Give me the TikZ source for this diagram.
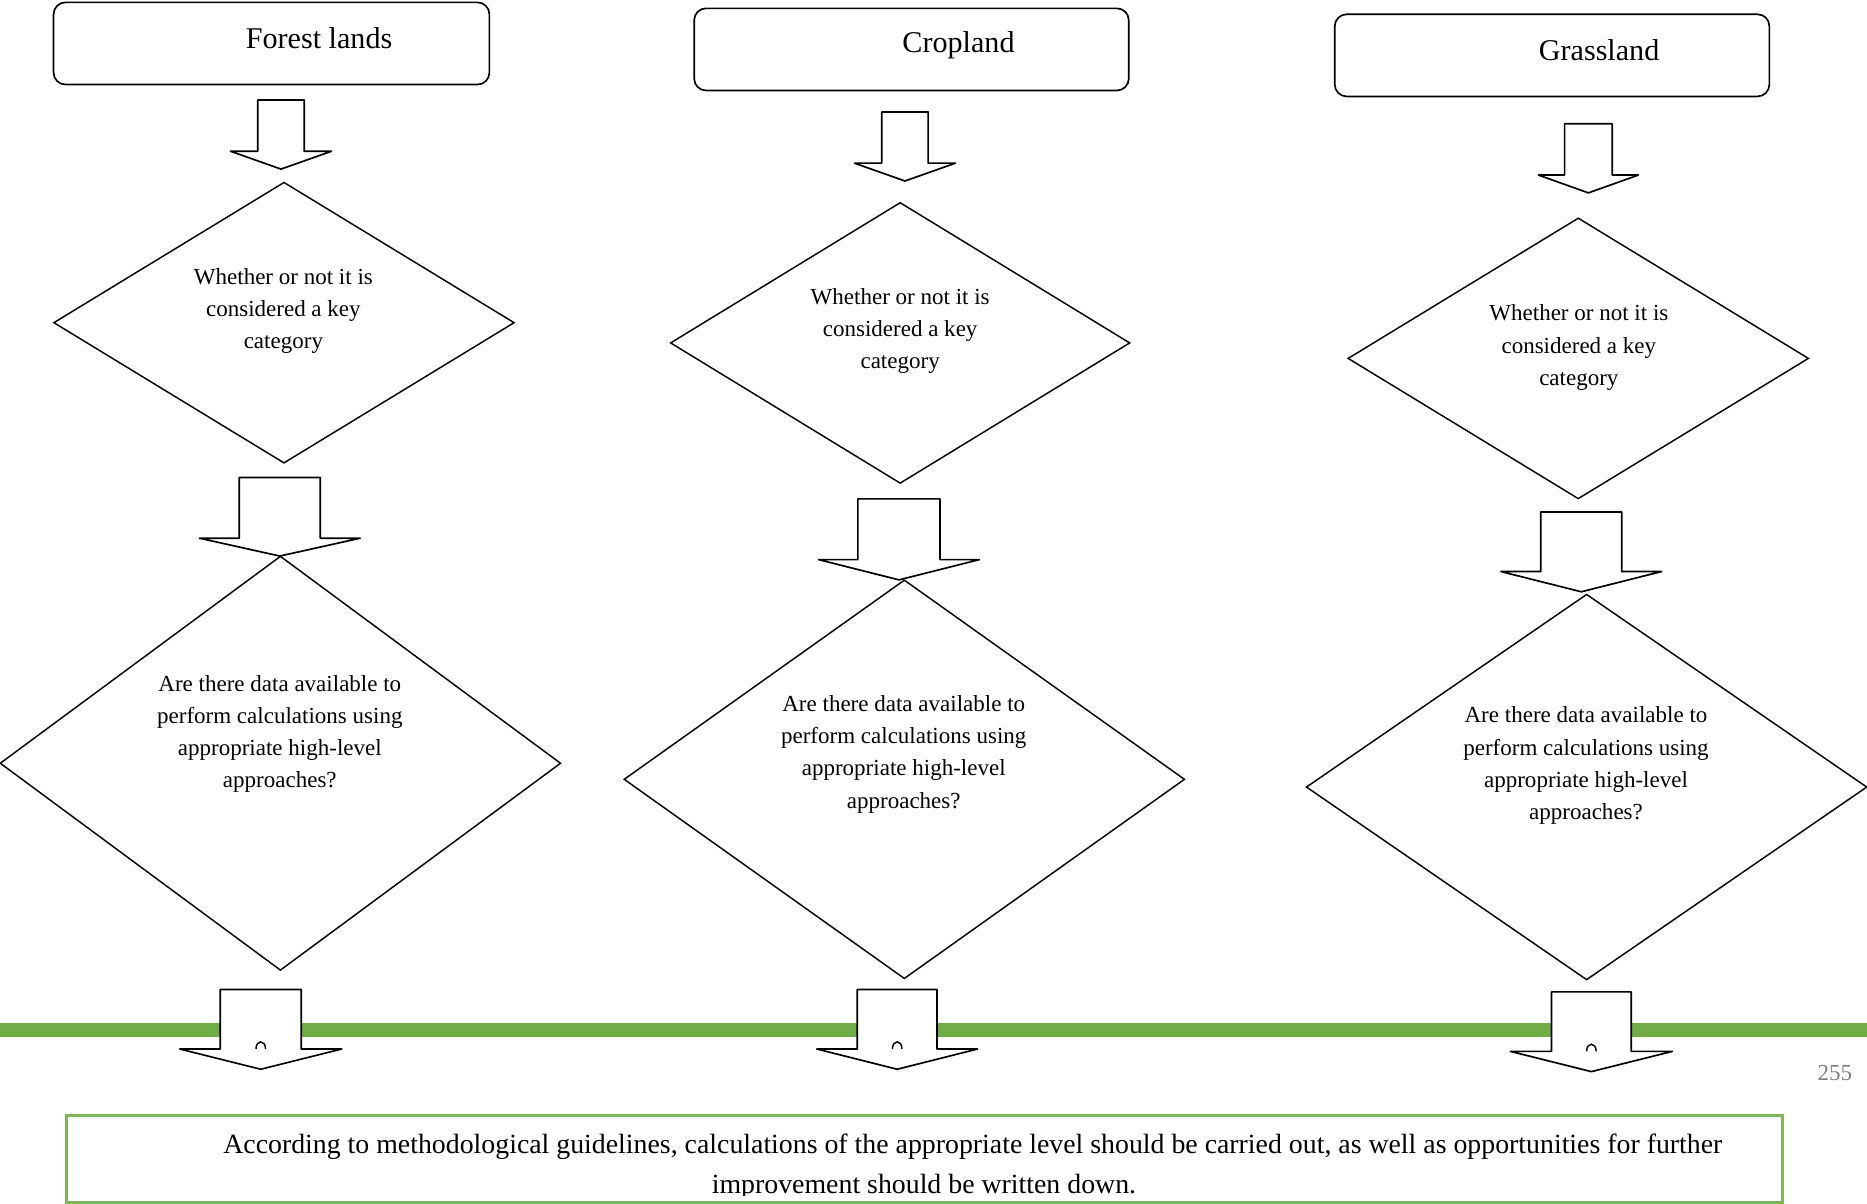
\documentclass[tikz,border=0pt]{standalone}
\usepackage{fontspec}
\setmainfont{Liberation Serif}
\usetikzlibrary{shapes.geometric}
\definecolor{bargreen}{HTML}{70AD47}
\definecolor{boxgreen}{HTML}{7DB75A}
\definecolor{pagegray}{HTML}{808080}
\tikzset{
  titlebox/.style={draw=black, line width=0.8pt, rounded corners=0.2cm, fill=white},
  titletext/.style={font=\fontsize{14.4}{17}\selectfont, inner sep=0pt},
  decision/.style={draw=black, line width=0.7pt, shape=diamond, inner sep=0pt, fill=white},
  dtext/.style={font=\fontsize{11}{15.4}\selectfont, align=center, inner sep=0pt},
  blockarrow/.style={draw=black, line width=0.8pt, fill=white, line join=round},
  btext/.style={font=\fontsize{13.3}{18.7}\selectfont, inner sep=0pt, anchor=base},
}
\newcommand{\blockarr}[7]{%
  \draw[blockarrow] (#2-#4,#3) -- (#2+#4,#3) -- (#2+#4,#5) -- (#2+#6,#5) -- (#2,#7) -- (#2-#6,#5) -- (#2-#4,#5) -- cycle;}
\newcommand{\peek}[2]{%
  \draw[line width=0.7pt] (#1-4,#2) .. controls (#1-4,#2-8) and (#1+4,#2-8) .. (#1+4,#2);}
\begin{document}
\begin{tikzpicture}[x=0.02cm, y=-0.02cm]
\useasboundingbox (0,0) rectangle (1568,1011);
\clip (0,0) rectangle (1568,1011);

% title boxes
\node[titlebox, minimum width=366*0.02cm, minimum height=69*0.02cm] (b1) at (228,36.5) {};
\node[titletext] (t1) at (268,32) {Forest lands};
\node[titlebox, minimum width=365*0.02cm, minimum height=69*0.02cm] (b2) at (765.5,41.5) {};
\node[titletext] (t2) at (805,38) {Cropland};
\node[titlebox, minimum width=365*0.02cm, minimum height=69*0.02cm] (b3) at (1303.5,46.5) {};
\node[titletext] (t3) at (1343,42) {Grassland};

% first arrows
\blockarr{a11}{236}{84}{19.5}{127}{42.5}{142}
\blockarr{a21}{760}{94}{19.5}{137}{42.5}{152}
\blockarr{a31}{1334}{104}{20}{147}{42}{162}

% second arrows
\blockarr{a12}{235}{401}{34}{452}{67.5}{467}
\blockarr{a22}{755}{419}{34.5}{470}{67.5}{487}
\blockarr{a32}{1328}{430}{34}{480}{67.5}{497}

% decisions: key category
\node[decision, minimum width=387*0.02cm, minimum height=236*0.02cm] (d1a) at (238.5,271) {};
\node[dtext] (q1a) at (238,261) {Whether or not it is\\considered a key\\category};
\node[decision, minimum width=386*0.02cm, minimum height=236*0.02cm] (d2a) at (756,288) {};
\node[dtext] (q2a) at (756,278) {Whether or not it is\\considered a key\\category};
\node[decision, minimum width=387*0.02cm, minimum height=236*0.02cm] (d3a) at (1325.5,301) {};
\node[dtext] (q3a) at (1326,292) {Whether or not it is\\considered a key\\category};

% decisions: data available
\node[decision, minimum width=471*0.02cm, minimum height=348*0.02cm] (d1b) at (235.5,641) {};
\node[dtext] (q1b) at (235,616.5) {Are there data available to\\perform calculations using\\appropriate high-level\\approaches?};
\node[decision, minimum width=471*0.02cm, minimum height=335*0.02cm] (d2b) at (759.5,654.5) {};
\node[dtext] (q2b) at (759,633.5) {Are there data available to\\perform calculations using\\appropriate high-level\\approaches?};
\node[decision, minimum width=471*0.02cm, minimum height=324*0.02cm] (d3b) at (1332.5,661) {};
\node[dtext] (q3b) at (1332,643) {Are there data available to\\perform calculations using\\appropriate high-level\\approaches?};

% green page rule
\fill[bargreen] (0,859) rectangle (1568,871);

% third arrows
\blockarr{a13}{219}{831}{34}{881}{68}{898}
\blockarr{a23}{753.5}{831}{33.5}{881}{67.5}{898}
\blockarr{a33}{1336.5}{833}{33.5}{883}{68}{900}
\peek{219}{881}
\peek{753.5}{881}
\peek{1336.5}{883}

% page number
\node[font=\fontsize{11}{13}\selectfont, text=pagegray, inner sep=0pt] (pg) at (1541,901) {255};

% bottom box
\begin{scope}
\clip (56,937) rectangle (1497,1004);
\node[btext] (r1) at (817,969) {According to methodological guidelines, calculations of the appropriate level should be carried out, as well as opportunities for further};
\node[btext] (r2) at (776,1002) {improvement should be written down.};
\end{scope}
\node[draw=boxgreen, line width=1.2pt, minimum width=1441*0.02cm, minimum height=73*0.02cm, inner sep=0pt] (res) at (776.5,973.5) {};
\end{tikzpicture}
\end{document}
